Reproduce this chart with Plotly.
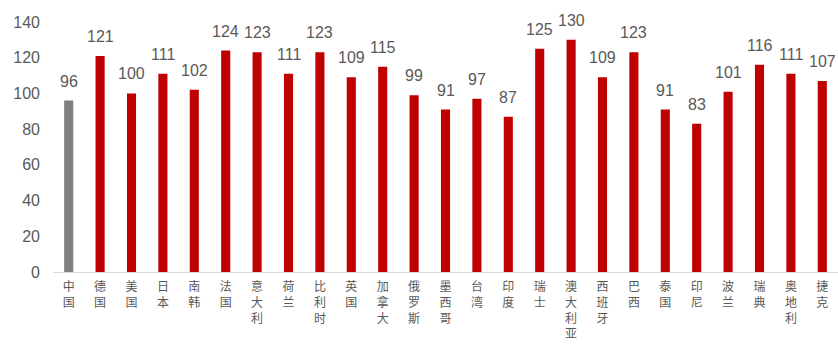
import plotly.graph_objects as go

categories = ["中国", "德国", "美国", "日本", "南韩", "法国", "意大利", "荷兰", "比利时", "英国",
              "加拿大", "俄罗斯", "墨西哥", "台湾", "印度", "瑞士", "澳大利亚", "西班牙", "巴西",
              "泰国", "印尼", "波兰", "瑞典", "奥地利", "捷克"]
values = [96, 121, 100, 111, 102, 124, 123, 111, 123, 109,
          115, 99, 91, 97, 87, 125, 130, 109, 123,
          91, 83, 101, 116, 111, 107]
y_ticks = [0, 20, 40, 60, 80, 100, 120, 140]

colors = ["#7f7f7f" if c == "中国" else "#c00000" for c in categories]
ticktext = ["<br>".join(list(c)) for c in categories]

fig = go.Figure(go.Bar(
    x=categories, y=values, marker=dict(color=colors, line=dict(width=0)),
))
for c, v in zip(categories, values):
    fig.add_annotation(x=c, y=v, text=str(v), showarrow=False, yanchor="bottom",
                       yshift=9, font=dict(size=16, color="#595959",
                                           family="Liberation Sans, Arial"))
fig.update_layout(
    width=838, height=357, margin=dict(l=53, r=0, t=22, b=85),
    paper_bgcolor="white", plot_bgcolor="white", bargap=0.71, showlegend=False,
    font=dict(family="Noto Sans CJK SC", color="#595959"),
)
fig.update_xaxes(tickmode="array", tickvals=categories, ticktext=ticktext,
                 tickangle=0, showline=True, linecolor="#d9d9d9", linewidth=1,
                 tickfont=dict(size=12, color="#595959", family="Noto Sans CJK SC"),
                 showgrid=False, ticks="", ticklabelstandoff=4)
fig.update_yaxes(range=[0, 140], tickvals=y_ticks, showgrid=False, zeroline=False,
                 showline=False, ticks="", ticklabelstandoff=12,
                 tickfont=dict(size=16, color="#595959", family="Liberation Sans, Arial"))
fig.write_html("out.html")
